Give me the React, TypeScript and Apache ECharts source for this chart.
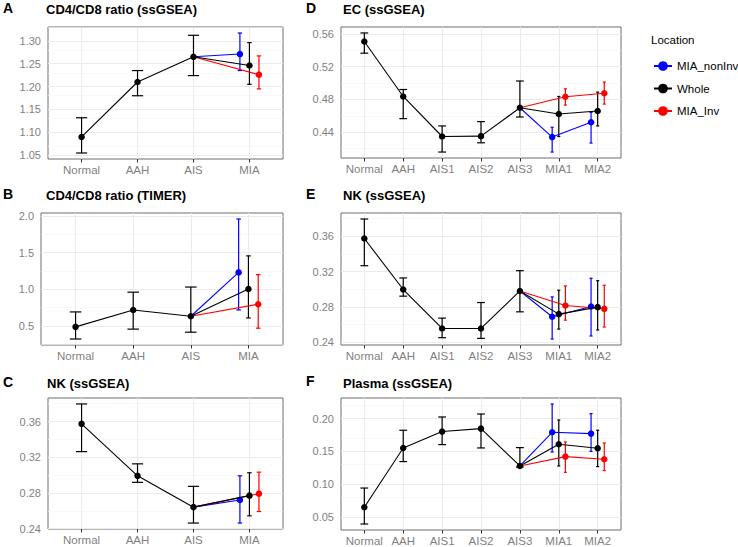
import React, { useEffect, useRef } from "react";
import * as echarts from "echarts";

// ---------- categories ----------
const catsABC = ["Normal", "AAH", "AIS", "MIA"];
const catsDEF = ["Normal", "AAH", "AIS1", "AIS2", "AIS3", "MIA1", "MIA2"];
const groupNames = ["MIA_nonInv", "Whole", "MIA_Inv"];
const groupColors = ["#0000FF", "#000000", "#FF0000"];

// ---------- A: CD4/CD8 ratio (ssGSEA) ----------
const aWholeMean = [1.09, 1.21, 1.265, 1.246];
const aWholeLow = [1.055, 1.18, 1.224, 1.205];
const aWholeHigh = [1.132, 1.235, 1.312, 1.296];
const aNonInvMean = [1.271];
const aNonInvLow = [1.235];
const aNonInvHigh = [1.317];
const aInvMean = [1.226];
const aInvLow = [1.195];
const aInvHigh = [1.267];
const aTicks = [1.05, 1.1, 1.15, 1.2, 1.25, 1.3];

// ---------- B: CD4/CD8 ratio (TIMER) ----------
const bWholeMean = [0.486, 0.717, 0.631, 1.003];
const bWholeLow = [0.32, 0.455, 0.413, 0.608];
const bWholeHigh = [0.69, 0.96, 1.03, 1.456];
const bNonInvMean = [1.23];
const bNonInvLow = [0.717];
const bNonInvHigh = [1.96];
const bInvMean = [0.795];
const bInvLow = [0.468];
const bInvHigh = [1.2];
const bTicks = [0.5, 1.0, 1.5, 2.0];

// ---------- C: NK (ssGSEA) ----------
const cWholeMean = [0.3574, 0.2992, 0.2641, 0.277];
const cWholeLow = [0.3263, 0.2919, 0.2463, 0.2544];
const cWholeHigh = [0.3797, 0.3126, 0.2874, 0.3026];
const cNonInvMean = [0.2722];
const cNonInvLow = [0.2463];
const cNonInvHigh = [0.2992];
const cInvMean = [0.2792];
const cInvLow = [0.2592];
const cInvHigh = [0.3033];
const cTicks = [0.24, 0.28, 0.32, 0.36];

// ---------- D: EC (ssGSEA) ----------
const dWholeMean = [0.5507, 0.4836, 0.4347, 0.4351, 0.4698, 0.4622, 0.4658];
const dWholeLow = [0.5365, 0.4565, 0.4157, 0.427, 0.4585, 0.4347, 0.4476];
const dWholeHigh = [0.5612, 0.4921, 0.4476, 0.4529, 0.5025, 0.4836, 0.4889];
const dNonInvMean = [0.434, 0.4521];
const dNonInvLow = [0.4157, 0.4267];
const dNonInvHigh = [0.446, 0.4642];
const dInvMean = [0.4832, 0.4876];
const dInvLow = [0.4731, 0.4743];
const dInvHigh = [0.4929, 0.5013];
const dTicks = [0.44, 0.48, 0.52, 0.56];

// ---------- E: NK (ssGSEA) ----------
const eWholeMean = [0.3574, 0.2997, 0.2557, 0.2557, 0.2981, 0.2719, 0.2798];
const eWholeLow = [0.3266, 0.2922, 0.2453, 0.2445, 0.2745, 0.255, 0.254];
const eWholeHigh = [0.3794, 0.3128, 0.2674, 0.285, 0.321, 0.2989, 0.3097];
const eNonInvMean = [0.2689, 0.2805];
const eNonInvLow = [0.2438, 0.2472];
const eNonInvHigh = [0.2914, 0.3124];
const eInvMean = [0.2816, 0.2779];
const eInvLow = [0.2651, 0.2573];
const eInvHigh = [0.3038, 0.3045];
const eTicks = [0.24, 0.28, 0.32, 0.36];

// ---------- F: Plasma (ssGSEA) ----------
const fWholeMean = [0.0646, 0.1552, 0.1802, 0.1847, 0.1277, 0.1608, 0.1547];
const fWholeLow = [0.0391, 0.1344, 0.1603, 0.1552, 0.1261, 0.1277, 0.1267];
const fWholeHigh = [0.094, 0.1822, 0.2025, 0.207, 0.1557, 0.1979, 0.1822];
const fNonInvMean = [0.1791, 0.1771];
const fNonInvLow = [0.149, 0.15];
const fNonInvHigh = [0.2223, 0.2076];
const fInvMean = [0.142, 0.1379];
const fInvLow = [0.118, 0.1206];
const fInvHigh = [0.1643, 0.1628];
const fTicks = [0.05, 0.1, 0.15, 0.2];

// ---------- layout / styling ----------
const FONT = "Liberation Sans";
const DODGE = 0.17;
const CAP_SHARED = 0.1;
const CAP_DODGED = 0.04;

type Panel = {
  letter: string;
  title: string;
  cats: string[];
  shared: number;
  whole: number[][];
  nonInv: number[][];
  inv: number[][];
  ticks: number[];
  decimals: number;
  grid: { left: number; top: number; width: number; height: number };
  letterPos: number[];
  titlePos: number[];
};

const panels: Panel[] = [
  {
    letter: "A", title: "CD4/CD8 ratio (ssGSEA)", cats: catsABC, shared: 3,
    whole: [aWholeMean, aWholeLow, aWholeHigh], nonInv: [aNonInvMean, aNonInvLow, aNonInvHigh], inv: [aInvMean, aInvLow, aInvHigh],
    ticks: aTicks, decimals: 2, grid: { left: 48, top: 27, width: 235, height: 132 }, letterPos: [3, 1], titlePos: [46, 3],
  },
  {
    letter: "B", title: "CD4/CD8 ratio (TIMER)", cats: catsABC, shared: 3,
    whole: [bWholeMean, bWholeLow, bWholeHigh], nonInv: [bNonInvMean, bNonInvLow, bNonInvHigh], inv: [bInvMean, bInvLow, bInvHigh],
    ticks: bTicks, decimals: 1, grid: { left: 41, top: 213, width: 242, height: 132 }, letterPos: [3, 187], titlePos: [46, 189],
  },
  {
    letter: "C", title: "NK (ssGSEA)", cats: catsABC, shared: 3,
    whole: [cWholeMean, cWholeLow, cWholeHigh], nonInv: [cNonInvMean, cNonInvLow, cNonInvHigh], inv: [cInvMean, cInvLow, cInvHigh],
    ticks: cTicks, decimals: 2, grid: { left: 48, top: 398, width: 235, height: 131 }, letterPos: [3, 375], titlePos: [47, 377],
  },
  {
    letter: "D", title: "EC (ssGSEA)", cats: catsDEF, shared: 5,
    whole: [dWholeMean, dWholeLow, dWholeHigh], nonInv: [dNonInvMean, dNonInvLow, dNonInvHigh], inv: [dInvMean, dInvLow, dInvHigh],
    ticks: dTicks, decimals: 2, grid: { left: 341, top: 27, width: 280, height: 131 }, letterPos: [306, 1], titlePos: [343, 3],
  },
  {
    letter: "E", title: "NK (ssGSEA)", cats: catsDEF, shared: 5,
    whole: [eWholeMean, eWholeLow, eWholeHigh], nonInv: [eNonInvMean, eNonInvLow, eNonInvHigh], inv: [eInvMean, eInvLow, eInvHigh],
    ticks: eTicks, decimals: 2, grid: { left: 341, top: 213, width: 280, height: 132 }, letterPos: [306, 187], titlePos: [343, 189],
  },
  {
    letter: "F", title: "Plasma (ssGSEA)", cats: catsDEF, shared: 5,
    whole: [fWholeMean, fWholeLow, fWholeHigh], nonInv: [fNonInvMean, fNonInvLow, fNonInvHigh], inv: [fInvMean, fInvLow, fInvHigh],
    ticks: fTicks, decimals: 2, grid: { left: 341, top: 398, width: 280, height: 132 }, letterPos: [306, 374], titlePos: [343, 377],
  },
];

const makeErrorRender = (color: string) => (_params: any, api: any) => {
  const x = api.value(0);
  const lo = api.value(1);
  const hi = api.value(2);
  const hw = api.value(3);
  const pLo = api.coord([x, lo]);
  const pHi = api.coord([x, hi]);
  const xl = api.coord([x - hw, lo])[0];
  const xr = api.coord([x + hw, lo])[0];
  const style = { stroke: color, lineWidth: 1.2 };
  return {
    type: "group",
    children: [
      { type: "line", shape: { x1: pLo[0], y1: pLo[1], x2: pHi[0], y2: pHi[1] }, style },
      { type: "line", shape: { x1: xl, y1: pLo[1], x2: xr, y2: pLo[1] }, style },
      { type: "line", shape: { x1: xl, y1: pHi[1], x2: xr, y2: pHi[1] }, style },
    ],
  };
};

function buildOption() {
  const grids: any[] = [];
  const xAxes: any[] = [];
  const yAxes: any[] = [];
  const lineSeries: any[] = [];
  const errSeries: any[] = [];
  const gridSeries: any[] = [];
  const titles: any[] = [];

  panels.forEach((p, i) => {
    const n = p.cats.length;
    const allVals = [...p.whole[1], ...p.whole[2], ...p.nonInv[1], ...p.nonInv[2], ...p.inv[1], ...p.inv[2]];
    const lo = Math.min(...allVals);
    const hi = Math.max(...allVals);
    const pad = (hi - lo) * 0.05;
    const yMin = lo - pad;
    const yMax = hi + pad;

    grids.push({
      left: p.grid.left, top: p.grid.top, width: p.grid.width, height: p.grid.height,
      show: true, borderColor: "#6e6e6e", borderWidth: 1, backgroundColor: "#ffffff",
    });

    const xVals = p.cats.map((_, k) => k);
    xAxes.push({
      type: "value", gridIndex: i, min: -0.6, max: n - 1 + 0.6,
      axisLine: { show: false },
      axisTick: { show: true, customValues: xVals, length: 3.5, lineStyle: { color: "#333333", width: 1 } },
      axisLabel: {
        customValues: xVals, formatter: (v: number) => p.cats[Math.round(v)] ?? "",
        color: "#7f7f7f", fontSize: 11.5, fontFamily: FONT, margin: 5,
      },
      splitLine: { show: false },
    });

    yAxes.push({
      type: "value", gridIndex: i, min: yMin, max: yMax,
      axisLine: { show: false },
      axisTick: { show: true, customValues: p.ticks, length: 3.5, lineStyle: { color: "#333333", width: 1 } },
      axisLabel: {
        customValues: p.ticks, formatter: (v: number) => v.toFixed(p.decimals),
        color: "#7f7f7f", fontSize: 11, fontFamily: FONT, margin: 7,
      },
      splitLine: { show: false },
    });

    // grid lines (major x, major y, minor y)
    const step = p.ticks[1] - p.ticks[0];
    const minor: number[] = [];
    for (let v = p.ticks[0] - step / 2; v <= yMax + 1e-9; v += step) {
      if (v >= yMin) minor.push(v);
    }
    const major = { color: "#ebebeb", width: 1, type: "solid" };
    const minorStyle = { color: "#f3f3f3", width: 0.6, type: "solid" };
    gridSeries.push({
      type: "line", xAxisIndex: i, yAxisIndex: i, data: [], silent: true, z: 1,
      markLine: {
        silent: true, z: 1, symbol: ["none", "none"], label: { show: false }, animation: false,
        data: [
          ...minor.map((v) => ({ yAxis: v, lineStyle: minorStyle })),
          ...p.ticks.map((v) => ({ yAxis: v, lineStyle: major })),
          ...xVals.map((v) => ({ xAxis: v, lineStyle: major })),
        ],
      },
    });

    // groups: 0 nonInv, 1 whole, 2 inv
    const groupData = [p.nonInv, p.whole, p.inv];
    groupData.forEach((g, gi) => {
      const color = groupColors[gi];
      let pts: any[];
      let errs: number[][];
      if (gi === 1) {
        pts = g[0].map((v, k) => [k, v]);
        errs = g[0].map((_, k) => [k, g[1][k], g[2][k], k < p.shared ? CAP_SHARED : CAP_DODGED]);
      } else {
        const off = gi === 0 ? -DODGE : DODGE;
        const anchor = p.shared - 1;
        pts = [{ value: [anchor, p.whole[0][anchor]], symbol: "none" }, ...g[0].map((v, j) => [p.shared + j + off, v])];
        errs = g[0].map((_, j) => [p.shared + j + off, g[1][j], g[2][j], CAP_DODGED]);
      }
      lineSeries.push({
        type: "line", name: groupNames[gi], xAxisIndex: i, yAxisIndex: i,
        data: pts, symbol: "circle", symbolSize: 6.5, showAllSymbol: true,
        itemStyle: { color }, lineStyle: { color, width: 1.1 }, z: gi === 1 ? 4 : 3,
        emphasis: { disabled: true },
      });
      errSeries.push({
        type: "custom", name: groupNames[gi], xAxisIndex: i, yAxisIndex: i,
        data: errs, dimensions: ["x", "lo", "hi", "hw"], encode: { x: 0, y: [1, 2] },
        renderItem: makeErrorRender(color), z: 2, silent: true,
      });
    });

    titles.push({
      text: p.letter, left: p.letterPos[0], top: p.letterPos[1], padding: 0,
      textStyle: { fontSize: 14, fontWeight: "bold", color: "#000", fontFamily: FONT },
    });
    titles.push({
      text: p.title, left: p.titlePos[0], top: p.titlePos[1], padding: 0,
      textStyle: { fontSize: 13, fontWeight: "bold", color: "#000", fontFamily: FONT },
    });
  });

  titles.push({
    text: "Location", left: 651, top: 34, padding: 0,
    textStyle: { fontSize: 11.5, fontWeight: "normal", color: "#000", fontFamily: FONT },
  });

  return {
    animation: false,
    backgroundColor: "#ffffff",
    textStyle: { fontFamily: FONT },
    title: titles,
    legend: {
      data: groupNames, orient: "vertical", left: 653, top: 60, padding: 0,
      itemWidth: 18, itemHeight: 12, itemGap: 10.5, selectedMode: false,
      textStyle: { fontSize: 11.5, color: "#000", fontFamily: FONT },
    },
    grid: grids,
    xAxis: xAxes,
    yAxis: yAxes,
    series: [...lineSeries, ...errSeries, ...gridSeries],
  };
}

export default function App() {
  const ref = useRef<HTMLDivElement>(null);
  useEffect(() => {
    document.body.style.margin = "0";
    if (!ref.current) return;
    const chart = echarts.init(ref.current, null, { renderer: "svg" });
    chart.setOption(buildOption() as any);
    return () => chart.dispose();
  }, []);
  return <div ref={ref} style={{ width: 738, height: 547 }} />;
}
